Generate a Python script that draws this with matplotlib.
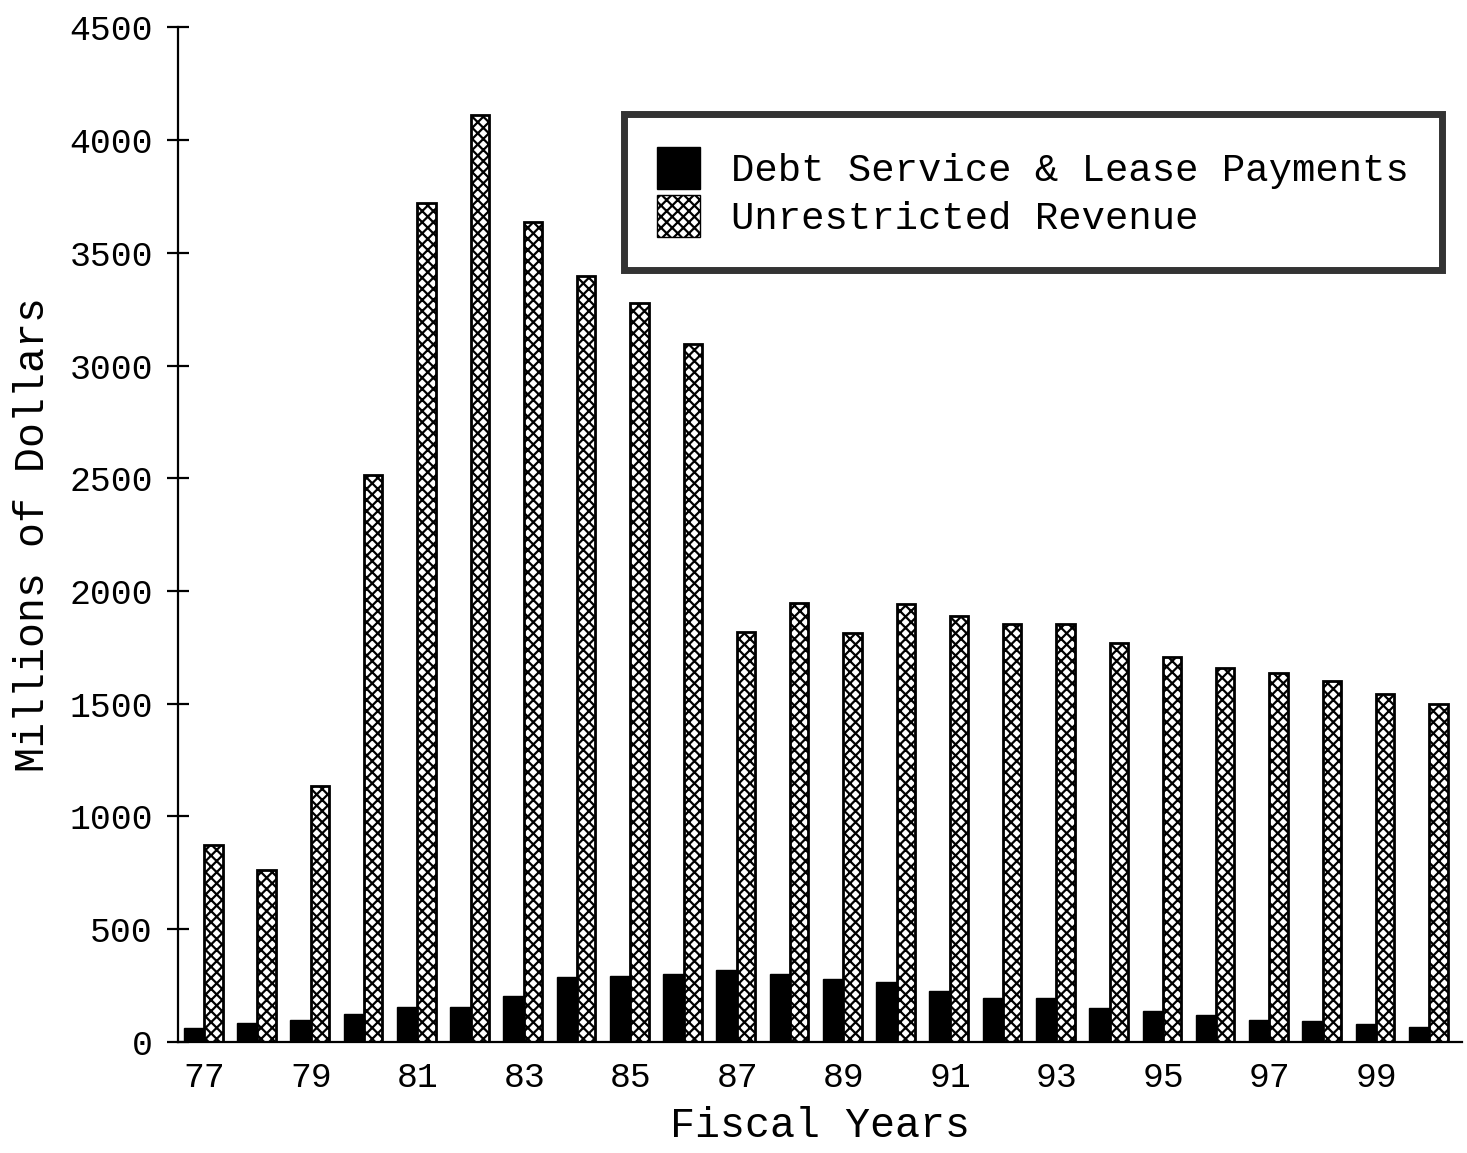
import matplotlib
matplotlib.use("Agg")
import matplotlib.pyplot as plt
import numpy as np
from matplotlib.patches import Patch

plt.rcParams["font.family"] = ["Liberation Mono", "DejaVu Sans Mono"]
plt.rcParams["hatch.linewidth"] = 1.6

# fiscal years 1977 .. 2000 (drawn as 77 .. 100)
years = list(range(77, 101))
debt_service = [62, 84, 97, 124, 155, 155, 204, 288, 293, 301, 319, 301,
                279, 266, 226, 195, 195, 151, 137, 120, 97, 93, 80, 66]
unrestricted = [873, 762, 1135, 2513, 3723, 4109, 3635, 3395, 3276, 3094,
                1817, 1946, 1813, 1941, 1888, 1853, 1853, 1769, 1707, 1658,
                1636, 1600, 1543, 1498]
tick_years = list(range(77, 100, 2))
tick_labels = [str(y) for y in tick_years]

fig = plt.figure(figsize=(14.67, 11.53), dpi=100)
ax = fig.add_axes([0.1213, 0.0963, 0.875, 0.880])

x = np.array(years, dtype=float)
w = 0.39
ax.bar(x - w / 2, debt_service, width=w, color="black", edgecolor="black",
       linewidth=1)
ax.bar(x + w / 2 - 0.03, unrestricted, width=w * 0.88, color="white",
       edgecolor="black", hatch="xxx", linewidth=2)

ax.set_xlim(76.5, 100.6)
ax.set_ylim(0, 4500)
ax.set_yticks(range(0, 4501, 500))
ax.set_xticks(tick_years)
ax.set_xticklabels(tick_labels)

for s in ("top", "right"):
    ax.spines[s].set_visible(False)
ax.spines["left"].set_linewidth(1.6)
ax.spines["bottom"].set_linewidth(1.6)
ax.tick_params(axis="y", direction="inout", length=16, width=1.6,
               labelsize=25, pad=10)
ax.tick_params(axis="x", length=0, labelsize=25, pad=14)

ax.set_xlabel("Fiscal Years", fontsize=30, labelpad=8)
ax.set_ylabel("Millions of Dollars", fontsize=30, labelpad=12)

handles = [Patch(facecolor="black", edgecolor="black"),
           Patch(facecolor="white", edgecolor="black", hatch="xxx")]
leg = ax.legend(handles, ["Debt Service & Lease Payments",
                          "Unrestricted Revenue"],
                loc="upper right", bbox_to_anchor=(0.985, 0.915),
                fontsize=28, frameon=True, fancybox=False,
                handlelength=1.1, handleheight=1.3, handletextpad=0.8,
                borderpad=0.85, borderaxespad=0, labelspacing=0.15)
leg.get_frame().set_linewidth(5)
leg.get_frame().set_edgecolor("black")

fig.savefig("out.png", dpi=100)
